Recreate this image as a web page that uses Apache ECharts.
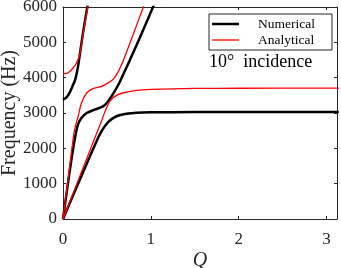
<!DOCTYPE html>
<html>
<head>
<meta charset="utf-8">
<script src="https://cdn.jsdelivr.net/npm/echarts@6/dist/echarts.min.js"></script>
<style>html,body{margin:0;padding:0;background:#fff}#c{width:341px;height:268px}</style>
</head>
<body>
<div id="c"></div>
<script>
// ---- data ----
var legendNames = ['Numerical', 'Analytical'];
var xTicks = [0, 1, 2, 3];
var yTicks = [0, 1000, 2000, 3000, 4000, 5000, 6000];

// Numerical (black), branch A: lowest
var qNumA = [0, 0.2, 0.4, 0.44, 0.48, 0.53, 0.58, 0.64, 0.72, 0.84, 1.0, 1.5, 2.0, 2.5, 3.14];
var fNumA = [0, 1160, 2300, 2490, 2640, 2780, 2870, 2935, 2980, 3010, 3020, 3025, 3025, 3025, 3025];
// Numerical, branch B: middle
var qNumB = [0, 0.07, 0.133, 0.17, 0.21, 0.27, 0.36, 0.455, 0.51, 0.57, 0.63, 0.68, 0.76, 0.875, 1.025, 1.06];
var fNumB = [0, 1250, 2244, 2669, 2858, 3000, 3093, 3187, 3320, 3540, 3800, 4060, 4490, 5130, 6000, 6200];
// Numerical, branch C: upper
var qNumC = [0, 0.04, 0.08, 0.11, 0.14, 0.17, 0.2, 0.23, 0.277, 0.3];
var fNumC = [3376, 3440, 3600, 3770, 3950, 4300, 4800, 5300, 6000, 6350];

// Analytical (red), branch A
var qAnaA = [0, 0.2, 0.4, 0.44, 0.475, 0.53, 0.59, 0.68, 0.84, 1.0, 1.5, 2.0, 3.14];
var fAnaA = [0, 1265, 2530, 2780, 3020, 3320, 3470, 3566, 3640, 3668, 3695, 3700, 3705];
// Analytical, branch B
var qAnaB = [0, 0.06, 0.114, 0.14, 0.17, 0.21, 0.27, 0.34, 0.44, 0.51, 0.57, 0.62, 0.67, 0.72, 0.8, 0.915, 0.95];
var fAnaB = [0, 1180, 2244, 2620, 2880, 3283, 3566, 3688, 3753, 3849, 3950, 4130, 4390, 4700, 5230, 6000, 6230];
// Analytical, branch C
var qAnaC = [0, 0.04, 0.076, 0.11, 0.15, 0.19, 0.23, 0.26, 0.285, 0.3];
var fAnaC = [4100, 4120, 4177, 4260, 4400, 4650, 5250, 5700, 6020, 6300];

function pairs(q, f) { return q.map(function (v, i) { return [v, f[i]]; }); }

var serif = '"Liberation Serif", "Times New Roman", serif';
var axisColor = '#262626';

function mkLine(name, q, f, color, width) {
  return {
    name: name, type: 'line', data: pairs(q, f), symbol: 'none',
    smooth: 0.25, clip: true,
    lineStyle: { color: color, width: width }, itemStyle: { color: color },
    silent: true, animation: false
  };
}

var chart = echarts.init(document.getElementById('c'), null, { renderer: 'canvas' });
var xMax = 3.12;
chart.setOption({
  backgroundColor: '#fff',
  animation: false,
  grid: { left: 63, right: 4, top: 7, bottom: 49, containLabel: false, outerBoundsMode: 'none' },
  xAxis: [{
    type: 'value', min: 0, max: xMax, interval: 1,
    name: 'Q', nameLocation: 'middle', nameGap: 32, nameMoveOverlap: false,
    nameTextStyle: { fontFamily: serif, fontSize: 20, fontStyle: 'italic', color: axisColor },
    axisLine: { show: true, onZero: false, lineStyle: { color: axisColor, width: 1 } },
    axisTick: { show: true, inside: true, length: 3, lineStyle: { color: axisColor } },
    axisLabel: { showMaxLabel: false, margin: 12, fontFamily: serif, fontSize: 17, color: axisColor,
      formatter: function (v) { return xTicks.indexOf(v) >= 0 ? String(v) : ''; } },
    splitLine: { show: false }
  }, {
    type: 'value', min: 0, max: xMax, interval: 1, position: 'top',
    axisLine: { show: true, onZero: false, lineStyle: { color: axisColor, width: 1 } },
    axisTick: { show: true, inside: true, length: 3, lineStyle: { color: axisColor } },
    axisLabel: { show: false }, splitLine: { show: false }
  }],
  yAxis: [{
    type: 'value', min: 0, max: 6000, interval: 1000,
    name: 'Frequency (Hz)', nameLocation: 'middle', nameGap: 43, nameRotate: 90, nameMoveOverlap: false,
    nameTextStyle: { fontFamily: serif, fontSize: 20, color: axisColor },
    axisLine: { show: true, onZero: false, lineStyle: { color: axisColor, width: 1 } },
    axisTick: { show: true, inside: true, length: 3, lineStyle: { color: axisColor } },
    axisLabel: { margin: 6, fontFamily: serif, fontSize: 17, color: axisColor,
      formatter: function (v) { return yTicks.indexOf(v) >= 0 ? String(v) : ''; } },
    splitLine: { show: false }
  }, {
    type: 'value', min: 0, max: 6000, interval: 1000, position: 'right',
    axisLine: { show: true, onZero: false, lineStyle: { color: axisColor, width: 1 } },
    axisTick: { show: true, inside: true, length: 3, lineStyle: { color: axisColor } },
    axisLabel: { show: false }, splitLine: { show: false }
  }],
  legend: {
    data: [
      { name: legendNames[0], icon: 'path://M0,0H108V10H0Z', itemStyle: { color: '#000' } },
      { name: legendNames[1], icon: 'path://M0,0H108V5.2H0Z', itemStyle: { color: '#ff0000' } }
    ],
    orient: 'vertical', left: 209, top: 14,
    backgroundColor: '#fff', borderColor: axisColor, borderWidth: 1, borderRadius: 0,
    padding: [3, 17, 3, 3], itemWidth: 27, itemHeight: 14, itemGap: 2,
    textStyle: { fontFamily: serif, fontSize: 13.5, color: '#000', padding: [0, 0, 0, 14] },
    selectedMode: false
  },
  graphic: [{
    type: 'text', left: 209, top: 53,
    style: { text: '10°  incidence', font: '18px "Liberation Serif"', fill: '#000' }
  }],
  series: [
    mkLine(legendNames[0], qNumA, fNumA, '#000', 2.5),
    mkLine(legendNames[0], qNumB, fNumB, '#000', 2.5),
    mkLine(legendNames[0], qNumC, fNumC, '#000', 2.5),
    mkLine(legendNames[1], qAnaA, fAnaA, '#ff0000', 1.3),
    mkLine(legendNames[1], qAnaB, fAnaB, '#ff0000', 1.3),
    mkLine(legendNames[1], qAnaC, fAnaC, '#ff0000', 1.3)
  ]
});
</script>
</body>
</html>
